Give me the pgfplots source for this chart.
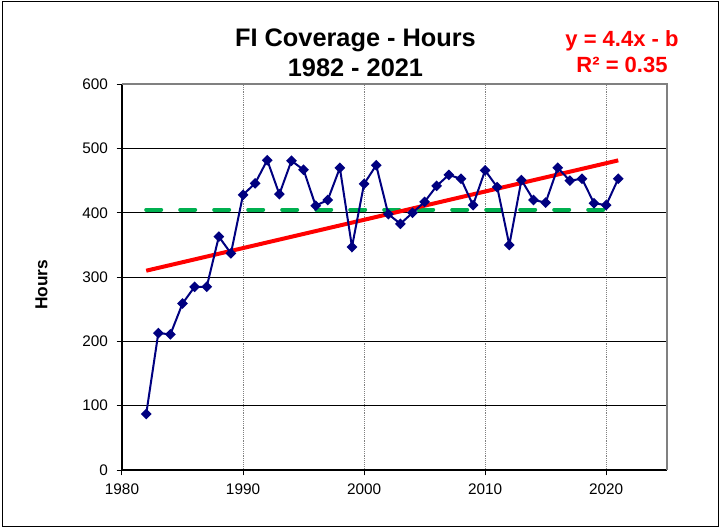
\documentclass[border=0pt]{standalone}
\usepackage{fontspec}
\setmainfont{Liberation Sans}
\usepackage{pgfplots}
\pgfplotsset{compat=1.18}
\definecolor{navyline}{HTML}{000080}
\definecolor{meangreen}{HTML}{00B050}
\definecolor{framegray}{HTML}{808080}

\begin{document}
\begin{tikzpicture}
\useasboundingbox (-91.5pt,-44.25pt) rectangle (448.5pt,352.5pt);
\draw[black, line width=0.75pt] (-89.25pt,-42pt) rectangle (447pt,351pt);
\begin{axis}[
    width=408.5pt, height=289.3pt,
    scale only axis,
    clip=false,
    xmin=1980, xmax=2025,
    ymin=0, ymax=600,
    xtick={1980,1990,...,2020},
    ytick={0,100,...,600},
    axis lines*=left,
    axis line style={black, line width=1.1pt},
    tick align=outside,
    major tick length=4pt,
    tick style={black, line width=0.75pt},
    xmajorgrids, ymajorgrids,
    x grid style={framegray, densely dotted, line width=0.75pt},
    y grid style={black, line width=0.75pt},
    ticklabel style={font=\fontsize{11.5}{13}\selectfont},
    /pgf/number format/assume math mode=true,
    /pgf/number format/1000 sep={},
    yticklabel style={xshift=-3pt},
    xticklabel style={yshift=-3pt},
    ylabel={Hours},
    ylabel style={font=\fontsize{13}{15}\selectfont\bfseries, at={(rel axis cs:-0.148,0.48)}, anchor=center},
]
% average
\addplot[meangreen, line width=3pt, dash pattern=on 11.25pt off 14.25pt, line cap=round] coordinates {(1982,405) (2020,405)};
% linear trend
\addplot[red, line width=3pt] coordinates {(1982,310) (2021,481.6)};
% hours per year
\addplot[navyline, line width=1.5pt, mark=square*, mark size=2.1pt, mark options={rotate=45, solid}] coordinates {
    (1982,87) (1983,213) (1984,211) (1985,259) (1986,285) (1987,285)
    (1988,363) (1989,337) (1990,428) (1991,446) (1992,482) (1993,429)
    (1994,481) (1995,467) (1996,411) (1997,420) (1998,470) (1999,347)
    (2000,445) (2001,474) (2002,398) (2003,383) (2004,400) (2005,417)
    (2006,442) (2007,459) (2008,453) (2009,412) (2010,466) (2011,440)
    (2012,350) (2013,451) (2014,420) (2015,416) (2016,470) (2017,450)
    (2018,453) (2019,415) (2020,412) (2021,453)
};
\draw[framegray, line width=1.5pt] (rel axis cs:0,1) -- (rel axis cs:1,1) -- (rel axis cs:1,0);
\node[anchor=base, font=\fontsize{19}{22}\selectfont\bfseries] at ([yshift=28.2pt]rel axis cs:0.4287,1) {FI Coverage - Hours};
\node[anchor=base, font=\fontsize{19}{22}\selectfont\bfseries] at ([yshift=5.7pt]rel axis cs:0.4287,1) {1982 - 2021};
\node[anchor=base, red, font=\fontsize{16.5}{19}\selectfont\bfseries] at ([yshift=28.2pt]rel axis cs:0.918,1) {y = 4.4x - b};
\node[anchor=base, red, font=\fontsize{16.5}{19}\selectfont\bfseries] at ([yshift=8.7pt]rel axis cs:0.918,1) {R² = 0.35};
\end{axis}
\end{tikzpicture}
\end{document}
